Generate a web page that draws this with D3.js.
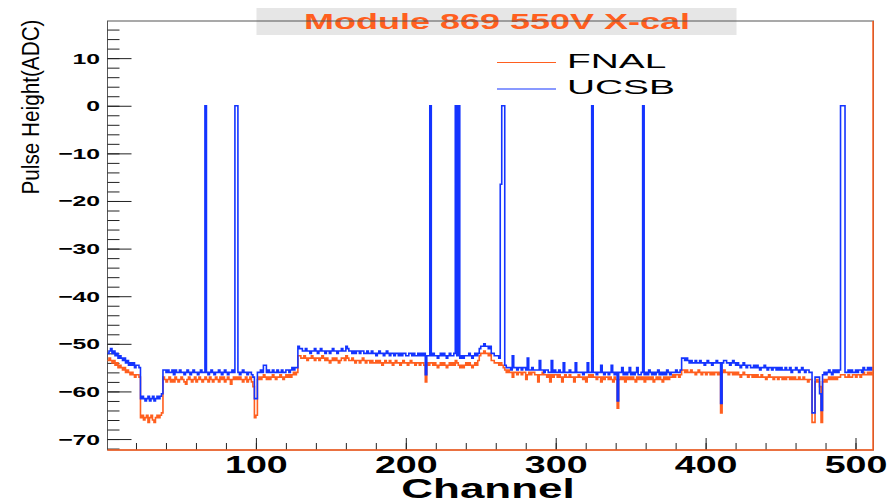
<!DOCTYPE html>
<html>
<head>
<meta charset="utf-8">
<script src="https://cdn.jsdelivr.net/npm/d3@7"></script>
<style>
  body { margin: 0; background: #fff; }
  svg { display: block; }
  text { font-family: "Liberation Sans", Arial, sans-serif; }
</style>
</head>
<body>
<script>
// chart values
const titleText = 'Module 869 550V X-cal';
const seriesNames = ['FNAL', 'UCSB'];
const xMajorTicks = [100, 200, 300, 400, 500];
const yMajorTicks = [-70, -60, -50, -40, -30, -20, -10, 0, 10];
const firstChannel = 1;

// pulse height per channel, channel 1 .. 511
const fnal = [
  -53.5,-53,-53.5,-54,-53.5,-54.5,-54,-55,-54.5,-55,-55.5,-55,-56,-55.5,-56,-56.5,
  -56,-56.5,-57,-56.5,-56.5,-57,-65.5,-65,-66,-65.5,-65,-66.5,-65.5,-65,-66,-66.5,
  -65.5,-65,-65.5,-65,-64.5,-57,-57.5,-58,-57.5,-57,-58,-57.5,-58,-57,-57.5,-58,
  -57.5,-57,-57.5,-58,-58.5,-57.5,-57,-57.5,-58,-57.5,-57,-58,-57.5,-57,-57.5,-58,
  -57.5,-57,-57.5,-58,-57,-57.5,-58,-57.5,-57,-57.5,-58,-57,-57.5,-57,-58,-57.5,
  -57,-57.5,-58.5,-57.5,-57,-57.5,-57,-57.5,-57,-57.5,-58,-57.5,-57,-58,-57.5,-57,
  -58,-59,-65.5,-65,-57.5,-57,-57.5,-57,-56.5,-57,-57.5,-57,-57.5,-57,-56.5,-57,
  -57.5,-57,-57,-56.5,-57,-57.5,-57,-56.5,-57,-56.5,-57,-56.5,-56,-56.5,-56,-52.5,
  -52.5,-53,-53,-52.5,-53,-53.5,-53,-53,-52.5,-53,-53.5,-53,-53,-53.5,-53,-52.5,
  -53,-53.5,-53,-53.5,-54,-53.5,-53,-53.5,-53,-53.5,-54,-53.5,-53,-53,-53.5,-52.5,
  -53,-53.5,-53.5,-53,-53.5,-54,-53.5,-53.5,-54,-53.5,-53,-53.5,-54,-53.5,-53.5,-54,
  -53.5,-54,-54,-53.5,-54,-53.5,-54,-54.5,-54,-53.5,-54,-54,-53.5,-54,-54.5,-54,
  -53.5,-54,-54,-54.5,-54,-53.5,-54,-54,-54.5,-54,-53.5,-54,-54,-54.5,-54,-54,
  -54.5,-54,-54,-54.5,-58,-54,-54.5,-54,-54,-54.5,-54,-54.5,-55,-54.5,-54,-54.5,
  -54,-54.5,-55,-54.5,-54,-54.5,-54,-54.5,-53.5,-54,-54.5,-55,-54.5,-55,-54.5,-54,
  -54.5,-54,-54.5,-55,-54.5,-54,-54.5,-53.5,-52.5,-52,-52,-51.5,-52,-52,-52.5,-52,
  -53.5,-53.5,-54,-54,-54,-54.5,-54,-54.5,-55,-55.5,-56,-55.5,-56,-56,-57,-56,
  -56,-56.5,-56,-56,-56.5,-56,-56,-57.5,-56.5,-56,-56.5,-56,-56,-56.5,-56.5,-58,
  -56.5,-56.5,-56,-56.5,-56.5,-57,-56.5,-58,-56.5,-57,-56.5,-56.5,-57,-56.5,-57,-58,
  -57,-56.5,-57,-57,-56.5,-57,-57,-58,-57,-57,-56.5,-57,-57,-57.5,-57,-58,
  -57,-56.5,-57,-56.5,-57,-57,-57.5,-57,-57,-58,-57,-57.5,-57,-57,-57.5,-57,
  -57.5,-58,-57,-57.5,-63.5,-57.5,-57,-57.5,-57,-58,-57,-57.5,-57,-57.5,-57,-57.5,
  -58,-57,-57.5,-57,-57.5,-57,-58,-57,-57.5,-57,-57.5,-57,-58,-57.5,-57,-57.5,
  -57,-57.5,-58,-57,-57.5,-57,-57.5,-57,-57,-56.5,-57,-56.5,-56.5,-57,-56.5,-55.5,
  -55.5,-56,-55.5,-56,-56,-55.5,-56,-56,-56.5,-56,-55.5,-56,-56.5,-56,-56,-56.5,
  -56,-56,-56.5,-56,-56.5,-56,-56,-56.5,-56,-64.5,-56,-55.5,-56,-56,-56.5,-56,
  -56,-56.5,-56,-56.5,-56,-56.5,-57,-56.5,-56,-56.5,-56.5,-57,-56.5,-56.5,-57,-56.5,
  -57,-56.5,-57,-57,-56.5,-57,-57,-57.5,-57,-56.5,-57,-57,-57.5,-57,-57,-57.5,
  -57,-57,-57.5,-57,-57.5,-57,-57,-57.5,-57,-57.5,-57,-57.5,-57.5,-57,-57.5,-57.5,
  -57,-57.5,-57.5,-58,-57.5,-57.5,-66.5,-66.5,-58,-57.5,-58,-59,-66.5,-58,-57.5,-58,
  -57.5,-57,-57.5,-57,-57.5,-57,-57.5,-57,-57,-56.5,-56.5,-56.5,-57,-57,-56.5,-57,
  -57,-56.5,-56.5,-57,-56.5,-56.5,-57,-56.5,-56,-56.5,-56.5,-56,-56.5,-56,-56.5
];

const ucsb = [
  -52,-51.5,-51,-52,-51.5,-52.5,-52,-53,-52.5,-53,-53.5,-53,-54,-53.5,-54.5,-54,
  -54.5,-54,-55,-54.5,-54.5,-55,-61.5,-61,-61.5,-62,-61.5,-61,-62,-61.5,-61,-62,
  -61.5,-61,-61.5,-61,-60.5,-55.5,-55.5,-56,-55.5,-56,-56,-55.5,-56.5,-55.5,-56,-56,
  -55.5,-56,-56,-56.5,-56,-55.5,-56,-56.5,-56,-55.5,-56,-56,-56.5,-56,-55.5,-56,
  -56,0,-56,-56.5,-56,-55.5,-56,-56.5,-56,-56,-55.5,-56,-56.5,-56,-55.5,-56,
  -56.5,-56,-56,-55.5,-56,0,0,-56,-56.5,-56,-55.5,-56,-56,-56.5,-56,-56,
  -56.5,-57,-61.5,-61.5,-56,-56,-55.5,-56,-54.5,-54.5,-56,-55.5,-56,-56,-55.5,-56,
  -56,-55.5,-56,-56,-55.5,-56,-56,-55.5,-55.5,-56,-55.5,-55,-55.5,-55,-55,-50.5,
  -51,-51,-51.5,-51.5,-51,-51.5,-51.5,-52,-51.5,-51.5,-51,-51.5,-52,-51.5,-51,-51.5,
  -51.5,-52,-51.5,-51.5,-52,-51.5,-51,-51.5,-51.5,-52,-51.5,-51.5,-51,-51.5,-51.5,-50.5,
  -51,-51.5,-51.5,-52,-51.5,-52,-51.5,-51.5,-52,-51.5,-51.5,-52,-52,-51.5,-52,-52,
  -51.5,-52,-52,-52.5,-52,-51.5,-52,-52,-52.5,-52,-51.5,-52,-52.5,-52,-52,-52.5,
  -52,-52,-52.5,-52,-52.5,-52,-52,-52.5,-52.5,-52,-52,-52.5,-52,-52.5,-52.5,-52,
  -52.5,-52,-52.5,-52,-56.5,-52.5,-52.5,0,-52.5,-52,-52.5,-52.5,-53,-52.5,-52,-52.5,
  -52,-52.5,-53,-52.5,-52,-52.5,-52.5,-52,0,-52.5,0,-53,-52.5,-53,-52.5,-52.5,
  -52.5,-52,-52.5,-53,-52.5,-52,-52.5,-52,-51,-50.5,-50.5,-50,-50.5,-50.5,-51,-50.5,
  -52,-52,-52.5,-52.5,-52.5,-53,-16.5,0,0,-54.5,-55,-55,-55,-55.5,-52.5,-55,
  -55,-55.5,-55,-55,-55.5,-55,-55,-55.5,-53,-55.5,-55.5,-55,-55.5,-55.5,-55.5,-55.5,
  -53.5,-55.5,-55.5,-56,-55.5,-55.5,-56,-56,-53.5,-56,-55.5,-56,-56,-55.5,-56,-56,
  -54,-56,-56,-56,-55.5,-56,-56,-56,-54,-56,-56,-56,-56,-56.5,-56,-56,
  -54,-56,-56,0,-56,-56,-56.5,-56,-56,-54.5,-56,-56.5,-56,-56,-56.5,-56,
  -54.5,-56,-56.5,-56,-62,-56,-56,-55,-56.5,-56,-56.5,-56,-55,-56.5,-56,-56.5,
  -56,-55,-56.5,-56.5,-56,0,-56.5,-56,-56.5,-55.5,-56,-56.5,-56,-56.5,-56,-55.5,
  -56.5,-56,-56.5,-56,-56.5,-55.5,-56,-56.5,-56,-56,-56,-55.5,-56,-56,-55.5,-53,
  -53,-53.5,-53,-53.5,-54,-53.5,-54,-54,-53.5,-54,-54,-53.5,-54,-54,-54.5,-54,
  -53.5,-54,-54,-54.5,-54,-54,-53.5,-54,-54,-62.5,-54,-53.5,-53.5,-54,-54,-54.5,
  -54,-53.5,-54,-54.5,-54,-54.5,-55,-54.5,-54,-54.5,-55,-54.5,-54.5,-55,-55,-54.5,
  -55,-54.5,-55,-55.5,-55,-55,-54.5,-55,-55.5,-55,-55,-55.5,-55,-55,-55.5,-55,
  -55.5,-55,-55.5,-55.5,-55,-55.5,-55.5,-55,-56,-55.5,-55.5,-55,-55.5,-56,-55.5,-55,
  -55.5,-56,-55.5,-55.5,-56,-56,-64.5,-64.5,-57,-57,-57,-60.5,-64,-56.5,-56,-56.5,
  -56,-55.5,-56,-56.5,-55.5,-56,-55.5,-56,-55.5,0,0,0,-56,-56,-55.5,-56,
  -55.5,-56,-56,-55.5,-56,-55.5,-55.5,-56,-55,-55.5,-55.5,-55,-55.5,-55,-55.5
];

const colors = { fnal: '#ff5f1f', ucsb: '#1434ff' };

const width = 896;
const height = 499;
const margin = { left: 107.5, right: 22.5, top: 21, bottom: 49 };
const stretch = 1.6; // the reference text is drawn wide

const svg = d3.select('body').append('svg')
  .attr('width', width)
  .attr('height', height)
  .style('background-color', 'white');

const x = d3.scaleLinear()
  .domain([firstChannel, firstChannel + fnal.length])
  .range([margin.left, width - margin.right]);

const y = d3.scaleLinear()
  .domain([-72.3, 17.8])
  .range([height - margin.bottom, margin.top]);

// title box
svg.append('rect')
  .attr('x', 256.5).attr('y', 8)
  .attr('width', 480).attr('height', 27)
  .attr('fill', '#e6e6e6');

svg.append('text')
  .attr('transform', `translate(497,28.5) scale(${stretch},1)`)
  .attr('text-anchor', 'middle')
  .attr('font-size', 22.5)
  .attr('font-weight', 'bold')
  .attr('fill', colors.fnal)
  .text(titleText);

// frame
svg.append('rect')
  .attr('x', x.range()[0]).attr('y', y.range()[1])
  .attr('width', x.range()[1] - x.range()[0])
  .attr('height', y.range()[0] - y.range()[1])
  .attr('fill', 'none')
  .attr('stroke', '#555')
  .attr('stroke-width', 1);

// x axis, major + minor ticks pointing inward
const gx = svg.append('g')
  .attr('transform', `translate(0,${y.range()[0]})`);

gx.append('g')
  .call(d3.axisBottom(x).tickValues(d3.range(20, 520, 20)).tickSize(-7).tickFormat(''))
  .call(g => g.select('.domain').remove());

gx.append('g')
  .call(d3.axisBottom(x).tickValues(xMajorTicks).tickSize(-12).tickPadding(6))
  .call(g => g.select('.domain').remove())
  .call(g => g.selectAll('text')
    .attr('transform', `scale(${stretch},1)`)
    .attr('font-size', 23.5)
    .attr('font-weight', 'bold')
    .attr('fill', '#000')
    .style('font-family', '"Liberation Sans", Arial, sans-serif'));

gx.selectAll('line').attr('stroke', '#222');

// y axis
const gy = svg.append('g')
  .attr('transform', `translate(${x.range()[0]},0)`);

gy.append('g')
  .call(d3.axisLeft(y).tickValues(d3.range(-72, 18, 2)).tickSize(-12).tickFormat(''))
  .call(g => g.select('.domain').remove());

gy.append('g')
  .call(d3.axisLeft(y).tickValues(yMajorTicks).tickSize(-24))
  .call(g => g.select('.domain').remove())
  .call(g => g.selectAll('text')
    .attr('x', -7.5 / stretch)
    .attr('transform', `scale(${stretch},1)`)
    .attr('font-size', 15.5)
    .attr('font-weight', 'bold')
    .attr('fill', '#000')
    .style('font-family', '"Liberation Sans", Arial, sans-serif'));

gy.selectAll('line').attr('stroke', '#222');

// histograms
const toPoints = vals => {
  const pts = vals.map((v, i) => [firstChannel + i, v]);
  pts.push([firstChannel + vals.length, vals[vals.length - 1]]);
  return pts;
};

const stepLine = d3.line()
  .x(d => x(d[0]))
  .y(d => y(d[1]))
  .curve(d3.curveStepAfter);

svg.append('path')
  .datum(toPoints(fnal))
  .attr('fill', 'none')
  .attr('stroke', colors.fnal)
  .attr('stroke-width', 1.6)
  .attr('d', stepLine);

svg.append('path')
  .datum(toPoints(ucsb))
  .attr('fill', 'none')
  .attr('stroke', colors.ucsb)
  .attr('stroke-width', 1.6)
  .attr('d', stepLine);

// orange edge along bottom and right of the frame
svg.append('path')
  .attr('fill', 'none')
  .attr('stroke', colors.fnal)
  .attr('stroke-width', 1.5)
  .attr('d', d3.line()([
    [x.range()[0], y.range()[0]],
    [x.range()[1] - 0.5, y.range()[0]],
    [x.range()[1] - 0.5, y.range()[1]]
  ]));

// legend
const legend = svg.append('g');
[colors.fnal, colors.ucsb].forEach((c, i) => {
  const ly = 62.5 + i * 26.5;
  legend.append('line')
    .attr('x1', 497).attr('x2', 556)
    .attr('y1', ly).attr('y2', ly)
    .attr('stroke', c)
    .attr('stroke-width', 1.2);
  legend.append('text')
    .attr('transform', `translate(567,${ly + 5}) scale(1.85,1)`)
    .attr('font-size', 21)
    .attr('fill', '#000')
    .text(seriesNames[i]);
});

// axis titles
svg.append('text')
  .attr('transform', `translate(38.5,107) scale(${stretch},1) rotate(-90)`)
  .attr('text-anchor', 'middle')
  .attr('font-size', 15.5)
  .attr('textLength', 175)
  .attr('lengthAdjust', 'spacingAndGlyphs')
  .attr('fill', '#000')
  .text('Pulse Height(ADC)');

svg.append('text')
  .attr('transform', `translate(488,498) scale(${stretch},1)`)
  .attr('text-anchor', 'middle')
  .attr('font-size', 27.5)
  .attr('font-weight', 'bold')
  .attr('fill', '#000')
  .text('Channel');
</script>
</body>
</html>
